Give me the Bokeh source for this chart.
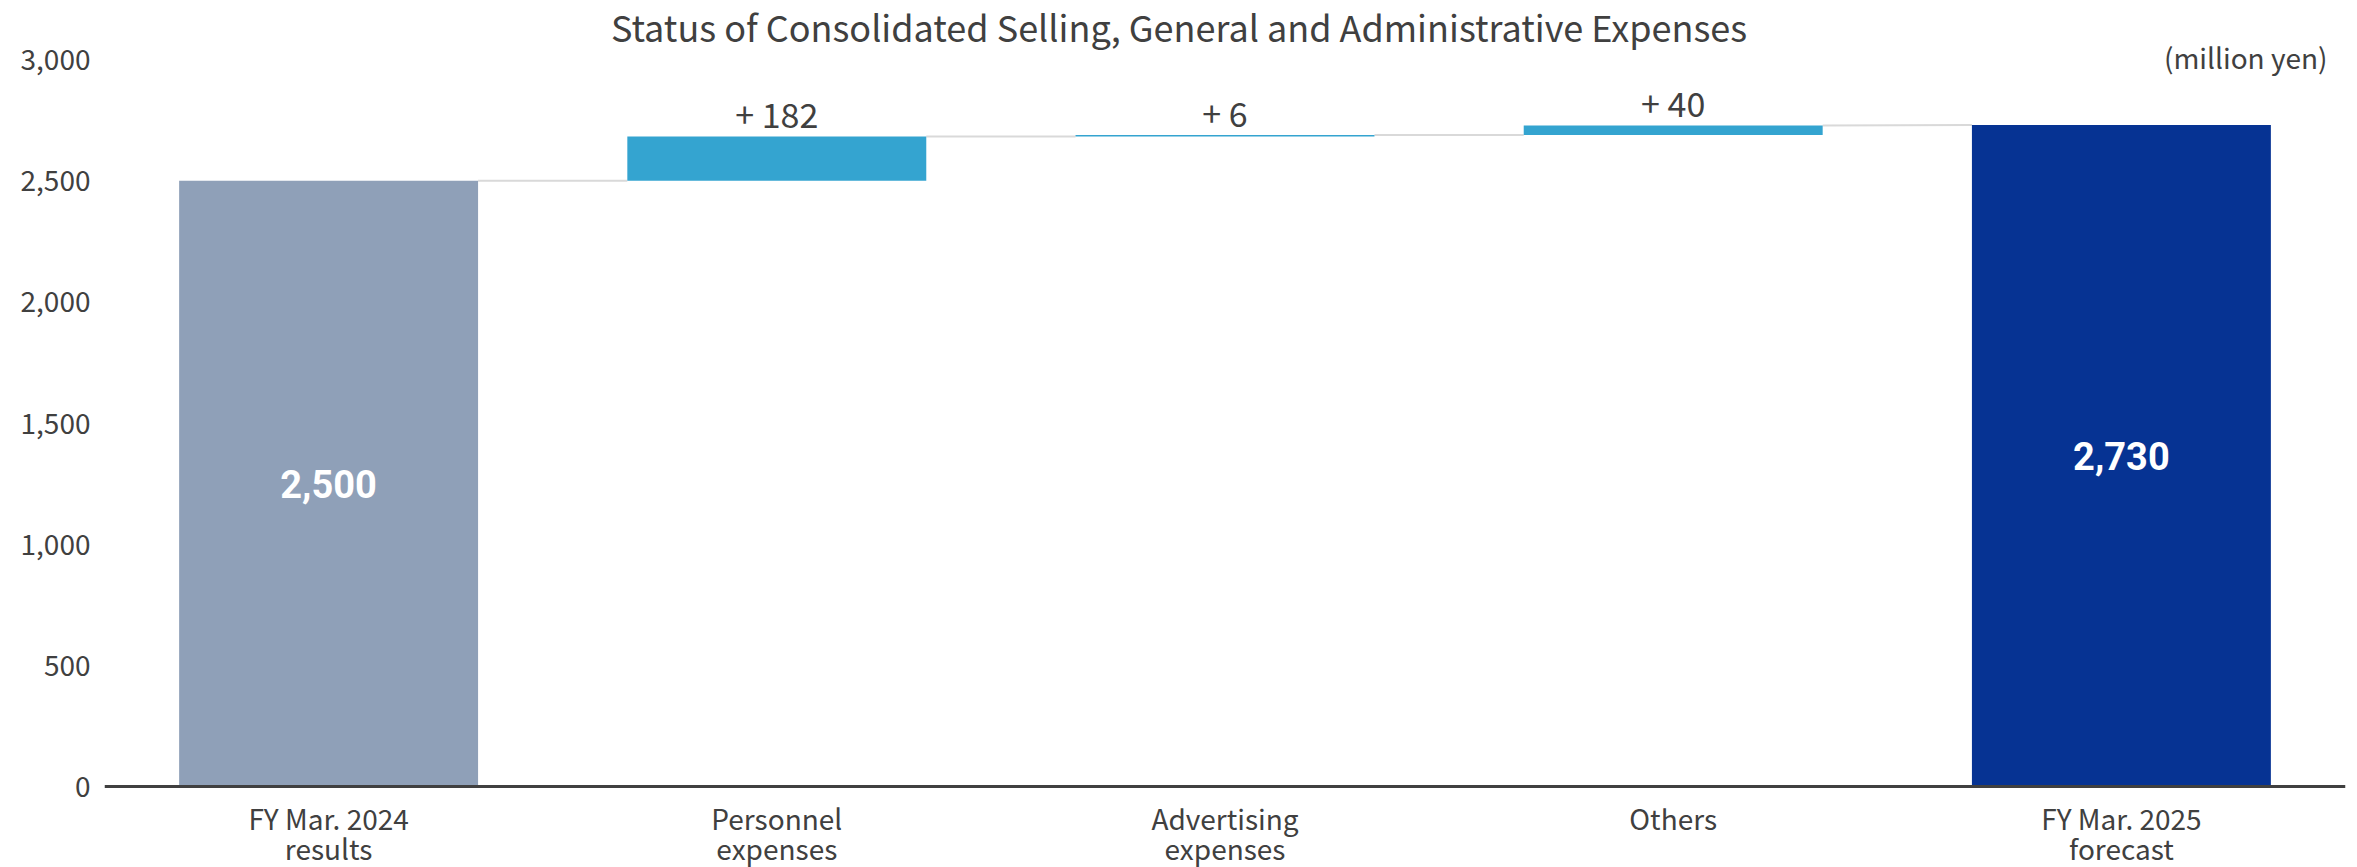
from bokeh.plotting import figure
from bokeh.models import FactorRange, Range1d, FixedTicker, NumeralTickFormatter, Label, LabelSet, ColumnDataSource
from bokeh.core.properties import value
from bokeh.embed import file_html
from bokeh.resources import INLINE

# ---- data ----
categories = ["FY Mar. 2024\nresults", "Personnel\nexpenses", "Advertising\nexpenses",
              "Others", "FY Mar. 2025\nforecast"]
start_value = 2500
change_values = [182, 6, 40]
end_value = 2730
y_ticks = [0, 500, 1000, 1500, 2000, 2500, 3000]
title_text = "Status of Consolidated Selling, General and Administrative Expenses"
unit_text = "(million yen)"

# ---- styles ----
COL_START = "#8FA0B8"
COL_INC = "#34A4D0"
COL_END = "#063393"
TXT = "#404040"
FONT = "Noto Sans CJK JP"
BAR_W = 0.667

# ---- waterfall geometry from data ----
bottoms = [0]
tops = [start_value]
cum = start_value
for c in change_values:
    bottoms.append(cum)
    cum += c
    tops.append(cum)
bottoms.append(0)
tops.append(end_value)
colors = [COL_START] + [COL_INC] * len(change_values) + [COL_END]

src = ColumnDataSource(dict(x=categories, bottom=bottoms, top=tops, color=colors))

# connectors: from right edge of bar i to left edge of bar i+1
cx0, cx1, cy0, cy1 = [], [], [], []
for i in range(len(categories) - 1):
    cx0.append(i + 0.5 + BAR_W / 2)
    cx1.append(i + 1.5 - BAR_W / 2)
    cy0.append(tops[i])
    nxt = bottoms[i + 1] if bottoms[i + 1] > 0 else tops[i + 1]
    cy1.append(nxt)

# layout: canvas 2357x867 (page has no margin), value 0 at 786 px, 3000 at 59 px
W, H = 2357, 867
zero_px = 786
px_per_unit = (786 - 59) / 3000
y_end = zero_px / px_per_unit
y_start = -(H - zero_px) / px_per_unit

p = figure(x_range=FactorRange(*categories, range_padding=0),
           y_range=Range1d(y_start, y_end), x_axis_location=None,
           width=W, height=H, output_backend="svg", toolbar_location=None,
           min_border_left=104, min_border_right=12, min_border_top=0, min_border_bottom=0)

p.segment(x0=cx0, y0=cy0, x1=cx1, y1=cy1, line_color="#D9D9D9", line_width=2)
p.vbar(x="x", bottom="bottom", top="top", width=BAR_W, fill_color="color",
       line_color=None, source=src)

# baseline (category axis line)
p.segment(x0=[0], y0=[0], x1=[len(categories)], y1=[0], line_color=TXT, line_width=3)

# category labels (two lines)
line1 = [c.split("\n")[0] for c in categories]
line2 = [c.split("\n")[1] if "\n" in c else "" for c in categories]
zeros = [0] * len(categories)
lab_src1 = ColumnDataSource(dict(x=categories, y=zeros, t=line1))
lab_src2 = ColumnDataSource(dict(x=categories, y=zeros, t=line2))
for s, off in ((lab_src1, -43), (lab_src2, -73)):
    p.add_layout(LabelSet(x="x", y="y", text="t", source=s, y_offset=off,
                          text_align="center", text_baseline="alphabetic",
                          text_font=value(FONT), text_font_size="28px", text_color=TXT))

# increment labels above bars
inc_x = categories[1:1 + len(change_values)]
inc_y = tops[1:1 + len(change_values)]
inc_txt = ["+ " + str(c) for c in change_values]
p.text(x=inc_x, y=inc_y, text=inc_txt, text_align="center", text_baseline="alphabetic",
       y_offset=-23, text_font=value(FONT), text_font_size="34px", text_color=TXT)

# total labels inside bars
tot_x = [categories[0], categories[-1]]
tot_y = [start_value / 2, end_value / 2]
tot_txt = [f"{start_value:,}", f"{end_value:,}"]
p.text(x=tot_x, y=tot_y, text=tot_txt, text_align="center", text_baseline="middle",
       text_font=value("Roboto"), text_font_style="bold", text_font_size="38px",
       text_color="white")

# title and unit
p.add_layout(Label(x=len(categories) / 2, y=3000 + (59 - 25) / px_per_unit, text=title_text,
                   text_align="center", text_baseline="alphabetic", x_offset=-46,
                   text_font=FONT, text_font_size="36px", text_color=TXT))
p.add_layout(Label(x=len(categories), y=3000 + (59 - 56) / px_per_unit, text=unit_text,
                   text_align="right", text_baseline="alphabetic", x_offset=-18,
                   text_font=FONT, text_font_size="28px", text_color=TXT))

# y axis
p.yaxis.ticker = FixedTicker(ticks=y_ticks)
p.yaxis.formatter = NumeralTickFormatter(format="0,0")
p.yaxis.axis_line_color = None
p.yaxis.major_tick_line_color = None
p.yaxis.minor_tick_line_color = None
p.yaxis.major_label_standoff = 8
p.yaxis.major_label_text_font = FONT
p.yaxis.major_label_text_font_size = "28px"
p.yaxis.major_label_text_color = TXT

p.xgrid.grid_line_color = None
p.ygrid.grid_line_color = None
p.outline_line_color = None
p.background_fill_color = "white"
p.border_fill_color = "white"

open("out.html", "w").write(file_html(p, INLINE))
